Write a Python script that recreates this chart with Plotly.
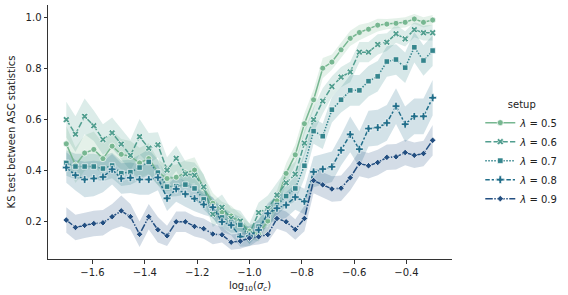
import plotly.graph_objects as go

# ---- data ----
log_sigma = [round(-1.7 + 0.035 * i, 4) for i in range(41)]

legend_labels = ["<i>λ</i> = 0.5", "<i>λ</i> = 0.6", "<i>λ</i> = 0.7", "<i>λ</i> = 0.8", "<i>λ</i> = 0.9"]

ks_05 = [0.503, 0.419, 0.467, 0.481, 0.445, 0.494, 0.462, 0.454, 0.428, 0.445,
         0.392, 0.367, 0.372, 0.389, 0.400, 0.330, 0.270, 0.236, 0.220, 0.197,
         0.160, 0.150, 0.200, 0.280, 0.387, 0.460, 0.582, 0.676, 0.800, 0.824,
         0.872, 0.917, 0.940, 0.953, 0.969, 0.973, 0.976, 0.980, 0.993, 0.980, 0.989]
ks_06 = [0.598, 0.541, 0.611, 0.574, 0.520, 0.546, 0.502, 0.458, 0.531, 0.486,
         0.499, 0.400, 0.446, 0.385, 0.380, 0.334, 0.227, 0.254, 0.210, 0.200,
         0.150, 0.233, 0.250, 0.302, 0.350, 0.384, 0.506, 0.598, 0.671, 0.728,
         0.765, 0.785, 0.863, 0.863, 0.893, 0.902, 0.935, 0.915, 0.951, 0.939, 0.939]
ks_07 = [0.428, 0.414, 0.414, 0.414, 0.406, 0.418, 0.388, 0.392, 0.410, 0.432,
         0.390, 0.335, 0.337, 0.343, 0.328, 0.285, 0.250, 0.214, 0.194, 0.185,
         0.139, 0.178, 0.220, 0.263, 0.298, 0.328, 0.417, 0.553, 0.533, 0.637,
         0.676, 0.713, 0.713, 0.749, 0.768, 0.826, 0.834, 0.802, 0.882, 0.830, 0.869]
ks_08 = [0.410, 0.380, 0.363, 0.367, 0.373, 0.403, 0.367, 0.370, 0.363, 0.363,
         0.371, 0.289, 0.326, 0.306, 0.288, 0.265, 0.254, 0.197, 0.184, 0.139,
         0.141, 0.165, 0.230, 0.250, 0.263, 0.294, 0.277, 0.393, 0.404, 0.413,
         0.478, 0.540, 0.482, 0.563, 0.567, 0.585, 0.651, 0.580, 0.611, 0.611, 0.684]
ks_09 = [0.204, 0.175, 0.183, 0.190, 0.193, 0.217, 0.240, 0.217, 0.148, 0.217,
         0.166, 0.142, 0.197, 0.197, 0.179, 0.170, 0.149, 0.146, 0.117, 0.121,
         0.133, 0.138, 0.147, 0.210, 0.197, 0.167, 0.210, 0.359, 0.342, 0.326,
         0.329, 0.370, 0.426, 0.417, 0.430, 0.450, 0.452, 0.469, 0.458, 0.465, 0.517]

# half-width of the 95% CI band
ci_05 = [0.07, 0.07, 0.07, 0.07, 0.06, 0.06, 0.06, 0.06, 0.06, 0.06,
         0.05, 0.05, 0.05, 0.05, 0.05, 0.05, 0.04, 0.04, 0.04, 0.03,
         0.03, 0.03, 0.04, 0.04, 0.04, 0.04, 0.04, 0.04, 0.04, 0.03,
         0.03, 0.03, 0.03, 0.025, 0.025, 0.02, 0.02, 0.02, 0.02, 0.02, 0.02]
ci_06 = [0.07, 0.07, 0.07, 0.06, 0.06, 0.06, 0.06, 0.06, 0.07, 0.06,
         0.05, 0.05, 0.05, 0.05, 0.05, 0.05, 0.05, 0.05, 0.04, 0.04,
         0.04, 0.04, 0.05, 0.05, 0.05, 0.05, 0.05, 0.05, 0.05, 0.04,
         0.04, 0.04, 0.04, 0.04, 0.04, 0.035, 0.035, 0.03, 0.03, 0.03, 0.03]
ci_07 = [0.05, 0.05, 0.05, 0.05, 0.05, 0.05, 0.05, 0.05, 0.05, 0.05,
         0.05, 0.04, 0.04, 0.04, 0.04, 0.04, 0.04, 0.04, 0.04, 0.03,
         0.03, 0.03, 0.04, 0.04, 0.04, 0.05, 0.05, 0.05, 0.05, 0.05,
         0.05, 0.06, 0.06, 0.06, 0.06, 0.06, 0.06, 0.06, 0.06, 0.06, 0.06]
ci_08 = [0.06, 0.06, 0.07, 0.07, 0.06, 0.06, 0.06, 0.06, 0.06, 0.06,
         0.05, 0.05, 0.05, 0.05, 0.05, 0.04, 0.04, 0.04, 0.04, 0.04,
         0.04, 0.04, 0.04, 0.05, 0.05, 0.05, 0.05, 0.06, 0.06, 0.06,
         0.06, 0.07, 0.07, 0.07, 0.07, 0.07, 0.07, 0.07, 0.07, 0.07, 0.07]
ci_09 = [0.05, 0.05, 0.05, 0.05, 0.05, 0.05, 0.06, 0.05, 0.05, 0.05,
         0.05, 0.04, 0.04, 0.04, 0.04, 0.04, 0.04, 0.03, 0.03, 0.03,
         0.03, 0.03, 0.03, 0.04, 0.04, 0.04, 0.05, 0.05, 0.05, 0.05,
         0.05, 0.05, 0.05, 0.05, 0.05, 0.05, 0.05, 0.05, 0.05, 0.05, 0.06]

x_tick_vals = [-1.6, -1.4, -1.2, -1.0, -0.8, -0.6, -0.4]
x_tick_text = ["−1.6", "−1.4", "−1.2", "−1.0", "−0.8", "−0.6", "−0.4"]
y_tick_vals = [0.2, 0.4, 0.6, 0.8, 1.0]
y_tick_text = ["0.2", "0.4", "0.6", "0.8", "1.0"]

# ---- styles ----
colors = ["#77b791", "#519e8f", "#34858d", "#216e8a", "#234f81"]
symbols = ["circle", "x", "square", "cross", "diamond"]
sizes = [6, 6, 5.5, 6.5, 5]
dashes = ["solid", "6px,2.25px", "1.5px,1.5px", "4.5px,1.9px,2.25px,1.9px", "7.5px,1.5px,1.5px,1.5px"]

series = [ks_05, ks_06, ks_07, ks_08, ks_09]
cis = [ci_05, ci_06, ci_07, ci_08, ci_09]


def rgba(hex_color, a):
    h = hex_color.lstrip("#")
    r, g, b = int(h[0:2], 16), int(h[2:4], 16), int(h[4:6], 16)
    return f"rgba({r},{g},{b},{a})"


fig = go.Figure()
for k in range(5):
    y = series[k]
    upper = [v + c for v, c in zip(y, cis[k])]
    lower = [v - c for v, c in zip(y, cis[k])]
    fig.add_trace(go.Scatter(
        x=log_sigma + log_sigma[::-1],
        y=upper + lower[::-1],
        fill="toself", fillcolor=rgba(colors[k], 0.2),
        line=dict(width=0), mode="lines",
        hoverinfo="skip", showlegend=False,
    ))
for k in range(5):
    fig.add_trace(go.Scatter(
        x=log_sigma, y=series[k], name=legend_labels[k],
        mode="lines+markers",
        line=dict(color=colors[k], width=1.5, dash=dashes[k]),
        marker=dict(symbol=symbols[k], size=sizes[k], color=colors[k],
                    line=dict(color="white", width=0.7)),
    ))

axis_common = dict(
    showline=True, linecolor="#333333", linewidth=1,
    ticks="outside", ticklen=3.5, tickwidth=1, tickcolor="#333333",
    showgrid=False, zeroline=False,
    tickfont=dict(family="DejaVu Sans", size=10, color="#222222"),
)

fig.update_layout(
    width=568, height=295,
    margin=dict(l=48, r=104, t=5, b=36),
    paper_bgcolor="white", plot_bgcolor="white",
    font=dict(family="DejaVu Sans", size=10, color="#222222"),
    xaxis=dict(range=[-1.77, -0.226], tickvals=x_tick_vals, ticktext=x_tick_text,
               title=dict(text="log<sub>10</sub>(<i>σ</i><sub><i>c</i></sub>)", standoff=5,
                          font=dict(size=10)),
               **axis_common),
    yaxis=dict(range=[0.051, 1.048], tickvals=y_tick_vals, ticktext=y_tick_text,
               title=dict(text="KS test between ASC statistics", standoff=8,
                          font=dict(size=10)),
               **axis_common),
    legend=dict(
        title=dict(text="setup", side="top center", font=dict(size=10)),
        x=1.07, xanchor="left", y=0.645, yanchor="top",
        font=dict(size=10), bgcolor="rgba(0,0,0,0)",
        tracegroupgap=0, itemwidth=30,
    ),
)

fig.write_html("out.html", config={"displayModeBar": False},
               post_script="document.body.style.margin='0';")
